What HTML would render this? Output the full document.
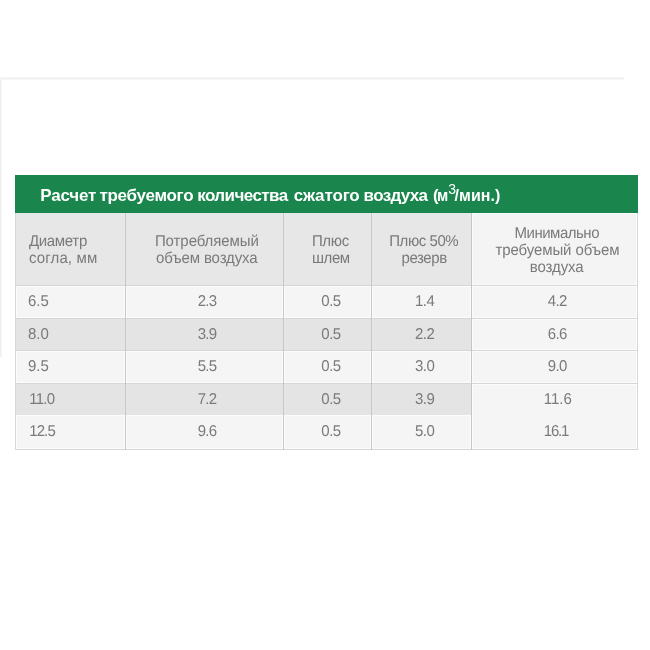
<!DOCTYPE html>
<html><head><meta charset="utf-8"><title>table</title>
<style>
html,body{margin:0;padding:0;background:#fff;}
body{width:650px;height:650px;position:relative;overflow:hidden;font-family:"Liberation Sans",Arial,sans-serif;}
div,span{position:absolute;}
.c.h{background:#e7e7e7}.c.hl{background:#f4f4f4;box-shadow:inset 0 0 0 1px #fbfbfb}.c.l{background:#f5f5f5;box-shadow:inset 0 0 0 1px #fcfcfc}.c.d{background:#e4e4e4}
.tx span{white-space:nowrap;line-height:1;color:#7a7a7a;transform-origin:0 84.65%;}

.tx span.title{color:#fff;font-weight:bold;}
.tx span.g{text-rendering:geometricPrecision;transform:scaleY(1.045);}
.tx span.sup{color:#fff;}
</style></head><body>
<div style="left:0;top:77px;width:624px;height:3px;background:linear-gradient(#f8f8f8,#f1f1f1 50%,#f8f8f8)"></div>
<div style="left:0;top:79px;width:2px;height:278px;background:linear-gradient(90deg,#ececec,#f8f8f8)"></div>
<div style="left:15px;top:175px;width:623px;height:275px;background:#d6d6d6"></div>
<div style="left:15px;top:175px;width:623px;height:38px;background:#1a864d"></div>
<div class="c h" style="left:16px;top:213px;width:109px;height:72px"></div>
<div class="c h" style="left:126px;top:213px;width:157px;height:72px"></div>
<div class="c h" style="left:284px;top:213px;width:87px;height:72px"></div>
<div class="c h" style="left:372px;top:213px;width:99px;height:72px"></div>
<div class="c hl" style="left:472px;top:213px;width:165px;height:72px"></div>
<div class="c l" style="left:16px;top:286px;width:109px;height:32px"></div>
<div class="c l" style="left:126px;top:286px;width:157px;height:32px"></div>
<div class="c l" style="left:284px;top:286px;width:87px;height:32px"></div>
<div class="c l" style="left:372px;top:286px;width:99px;height:32px"></div>
<div class="c l" style="left:472px;top:286px;width:165px;height:32px"></div>
<div class="c d" style="left:16px;top:319px;width:109px;height:31px"></div>
<div class="c d" style="left:126px;top:319px;width:157px;height:31px"></div>
<div class="c d" style="left:284px;top:319px;width:87px;height:31px"></div>
<div class="c d" style="left:372px;top:319px;width:99px;height:31px"></div>
<div class="c l" style="left:472px;top:319px;width:165px;height:31px"></div>
<div class="c l" style="left:16px;top:351px;width:109px;height:32px"></div>
<div class="c l" style="left:126px;top:351px;width:157px;height:32px"></div>
<div class="c l" style="left:284px;top:351px;width:87px;height:32px"></div>
<div class="c l" style="left:372px;top:351px;width:99px;height:32px"></div>
<div class="c l" style="left:472px;top:351px;width:165px;height:32px"></div>
<div class="c d" style="left:16px;top:384px;width:109px;height:31px"></div>
<div class="c d" style="left:126px;top:384px;width:157px;height:31px"></div>
<div class="c d" style="left:284px;top:384px;width:87px;height:31px"></div>
<div class="c d" style="left:372px;top:384px;width:99px;height:31px"></div>
<div class="c l" style="left:472px;top:384px;width:165px;height:65px"></div>
<div class="c l" style="left:16px;top:415px;width:109px;height:34px"></div>
<div class="c l" style="left:126px;top:415px;width:157px;height:34px"></div>
<div class="c l" style="left:284px;top:415px;width:87px;height:34px"></div>
<div class="c l" style="left:372px;top:415px;width:99px;height:34px"></div>
<div style="left:15px;top:213px;width:1px;height:237px;background:#d8d8d8"></div>
<div style="left:125px;top:213px;width:1px;height:237px;background:#c8c8c8"></div>
<div style="left:283px;top:213px;width:1px;height:237px;background:#c8c8c8"></div>
<div style="left:371px;top:213px;width:1px;height:237px;background:#c8c8c8"></div>
<div style="left:471px;top:213px;width:1px;height:237px;background:#c6c6c6"></div>
<div style="left:637px;top:213px;width:1px;height:237px;background:#d8d8d8"></div>
<div class="tx">
<span id="t1" class="title" style="left:40.34px;top:186.61px;font-size:17px;letter-spacing:-0.222px">Расчет</span>
<span id="t2" class="title" style="left:99.48px;top:186.61px;font-size:17px;letter-spacing:-0.288px">требуемого</span>
<span id="t3" class="title" style="left:197.28px;top:186.61px;font-size:17px;letter-spacing:-0.578px">количества</span>
<span id="t4" class="title" style="left:293.68px;top:186.61px;font-size:17px;letter-spacing:-0.139px">сжатого</span>
<span id="t5" class="title" style="left:363.59px;top:186.61px;font-size:17px;letter-spacing:-0.652px">воздуха</span>
<span id="t6a" class="title" style="left:433.00px;top:186.61px;font-size:17px;letter-spacing:0.000px;transform:scaleX(0.985)">(</span>
<span id="t6b" class="title" style="left:437.15px;top:186.61px;font-size:17px;letter-spacing:0.000px;transform:scaleX(0.894)">м</span>
<span id="t7" class="sup" style="left:448.15px;top:182.15px;font-size:14px;letter-spacing:0.000px">3</span>
<span id="t8" class="title" style="left:454.59px;top:188.46px;font-size:16px;letter-spacing:0.030px">/мин.)</span>
<span id="h1a" class="g" style="left:28.89px;top:234.30px;font-size:15px;letter-spacing:-0.315px">Диаметр</span>
<span id="h1b" class="g" style="left:28.91px;top:251.30px;font-size:15px;letter-spacing:0.144px">согла, мм</span>
<span id="h2a" class="g" style="left:154.90px;top:234.30px;font-size:15px;letter-spacing:-0.067px">Потребляемый</span>
<span id="h2b" class="g" style="left:156.11px;top:251.30px;font-size:15px;letter-spacing:-0.133px">объем воздуха</span>
<span id="h3a" class="g" style="left:311.90px;top:234.30px;font-size:15px;letter-spacing:-0.329px">Плюс</span>
<span id="h3b" class="g" style="left:312.00px;top:251.30px;font-size:15px;letter-spacing:-0.421px">шлем</span>
<span id="h4a" class="g" style="left:389.24px;top:234.30px;font-size:15px;letter-spacing:-0.432px">Плюс 50%</span>
<span id="h4b" class="g" style="left:401.45px;top:251.30px;font-size:15px;letter-spacing:-0.383px">резерв</span>
<span id="h5a" class="g" style="left:514.56px;top:226.30px;font-size:15px;letter-spacing:-0.492px">Минимально</span>
<span id="h5b" class="g" style="left:495.38px;top:243.30px;font-size:15px;letter-spacing:-0.087px">требуемый объем</span>
<span id="h5c" class="g" style="left:529.81px;top:260.30px;font-size:15px;letter-spacing:-0.111px">воздуха</span>
<span id="d00" class="g" style="left:28.00px;top:294.30px;font-size:15px;letter-spacing:-0.054px">6.5</span>
<span id="d01" class="g" style="left:197.70px;top:294.30px;font-size:15px;letter-spacing:-0.698px">2.3</span>
<span id="d02" class="g" style="left:321.36px;top:294.30px;font-size:15px;letter-spacing:-0.539px">0.5</span>
<span id="d03" class="g" style="left:414.88px;top:294.30px;font-size:15px;letter-spacing:-0.384px">1.4</span>
<span id="d04" class="g" style="left:547.79px;top:294.30px;font-size:15px;letter-spacing:-0.600px">4.2</span>
<span id="d10" class="g" style="left:28.00px;top:327.30px;font-size:15px;letter-spacing:-0.054px">8.0</span>
<span id="d11" class="g" style="left:197.70px;top:327.30px;font-size:15px;letter-spacing:-0.698px">3.9</span>
<span id="d12" class="g" style="left:321.36px;top:327.30px;font-size:15px;letter-spacing:-0.539px">0.5</span>
<span id="d13" class="g" style="left:414.88px;top:327.30px;font-size:15px;letter-spacing:-0.384px">2.2</span>
<span id="d14" class="g" style="left:547.79px;top:327.30px;font-size:15px;letter-spacing:-0.600px">6.6</span>
<span id="d20" class="g" style="left:28.00px;top:359.30px;font-size:15px;letter-spacing:-0.054px">9.5</span>
<span id="d21" class="g" style="left:197.70px;top:359.30px;font-size:15px;letter-spacing:-0.698px">5.5</span>
<span id="d22" class="g" style="left:321.36px;top:359.30px;font-size:15px;letter-spacing:-0.539px">0.5</span>
<span id="d23" class="g" style="left:414.88px;top:359.30px;font-size:15px;letter-spacing:-0.384px">3.0</span>
<span id="d24" class="g" style="left:547.79px;top:359.30px;font-size:15px;letter-spacing:-0.600px">9.0</span>
<span id="d30" class="g" style="left:29.25px;top:392.30px;font-size:15px;letter-spacing:-0.774px">11.0</span>
<span id="d31" class="g" style="left:197.70px;top:392.30px;font-size:15px;letter-spacing:-0.698px">7.2</span>
<span id="d32" class="g" style="left:321.36px;top:392.30px;font-size:15px;letter-spacing:-0.539px">0.5</span>
<span id="d33" class="g" style="left:414.88px;top:392.30px;font-size:15px;letter-spacing:-0.384px">3.9</span>
<span id="d34" class="g" style="left:543.79px;top:392.30px;font-size:15px;letter-spacing:-0.030px">11.6</span>
<span id="d40" class="g" style="left:29.25px;top:424.30px;font-size:15px;letter-spacing:-0.906px">12.5</span>
<span id="d41" class="g" style="left:197.70px;top:424.30px;font-size:15px;letter-spacing:-0.698px">9.6</span>
<span id="d42" class="g" style="left:321.36px;top:424.30px;font-size:15px;letter-spacing:-0.539px">0.5</span>
<span id="d43" class="g" style="left:414.88px;top:424.30px;font-size:15px;letter-spacing:-0.384px">5.0</span>
<span id="d44" class="g" style="left:543.79px;top:424.30px;font-size:15px;letter-spacing:-1.239px">16.1</span>
</div>
</body></html>
